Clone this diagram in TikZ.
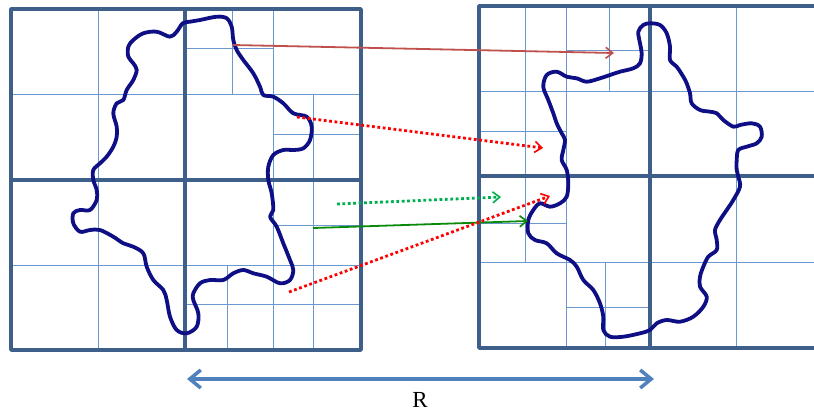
\documentclass[tikz,border=0pt]{standalone}
\usepackage{fontspec}
\setmainfont{Liberation Serif}
\usetikzlibrary{arrows.meta}
\definecolor{thickc}{HTML}{3E5F8A}
\definecolor{thinc}{HTML}{6A98CF}
\definecolor{blobc}{HTML}{0E0E85}
\definecolor{brownred}{HTML}{C0504D}
\definecolor{dgreen}{HTML}{0A8A0A}
\definecolor{lgreen}{HTML}{00B050}
\definecolor{rarrow}{HTML}{4F81BD}
\tikzset{
  thick grid/.style={draw=thickc,line width=3.5pt,line cap=round,line join=round},
  thin grid/.style={draw=thinc,line width=1pt},
  blob/.style={draw=blobc,line width=3.8pt,line join=round},
  openhead/.style={-{Straight Barb[length=7pt,width=11pt,line width=1.6pt]}},
  solidarrow/.style={openhead,line width=1.8pt},
  dotarrow/.style={openhead,line width=2.8pt,dash pattern=on 2.8pt off 2.6pt},
}
\begin{document}
\begin{tikzpicture}[x=1pt,y=-1pt]
\useasboundingbox (0,0) rectangle (814,413);
\clip (0,0) rectangle (814,413);
\fill[white] (0,0) rectangle (814,413);

% ---------- left square ----------
% level-2 grid
\draw[thin grid] (98.7,9) -- (98.7,350);
\draw[thin grid] (273,9) -- (273,350);
\draw[thin grid] (11,94) -- (361,94);
\draw[thin grid] (11,265) -- (361,265);
% level-3
\draw[thin grid] (185,48) -- (273,48);
\draw[thin grid] (232,9) -- (232,94);
\draw[thin grid] (313,94) -- (313,350);
\draw[thin grid] (273,134) -- (361,134);
\draw[thin grid] (273,225) -- (361,225);
\draw[thin grid] (185,304) -- (361,304);
\draw[thin grid] (227,265) -- (227,350);
% level-1
\draw[thick grid] (11,9) rectangle (361,350);
\draw[thick grid] (185,9) -- (185,350);
\draw[thick grid] (11,180) -- (361,180);

% ---------- right square ----------
\draw[thin grid] (566,6) -- (566,348);
\draw[thin grid] (736,6) -- (736,348);
\draw[thin grid] (479,91) -- (830,91);
\draw[thin grid] (479,262) -- (830,262);
% level-3
\draw[thin grid] (525,6) -- (525,262);
\draw[thin grid] (609,6) -- (609,91);
\draw[thin grid] (566,50) -- (650,50);
\draw[thin grid] (479,131) -- (566,131);
\draw[thin grid] (479,223) -- (566,223);
\draw[thin grid] (605,262) -- (605,348);
\draw[thin grid] (566,307) -- (650,307);
% level-1
\draw[thick grid] (830,6) -- (479,6) -- (479,348) -- (830,348);
\draw[thick grid] (650,6) -- (650,348);
\draw[thick grid] (479,176) -- (830,176);

% ---------- blobs ----------
\draw[blob] plot[smooth cycle, tension=0.55] coordinates {
(182.7,23.3) (190,21.7) (200,20) (216.7,16.7) (226.7,18.3) (231.7,26.7)
(233.3,40) (236.7,50) (243.3,60) (253.3,73.3) (260,86.7) (263.3,95)
(273.3,96.7) (283.3,103.3) (293.3,113.3) (306.7,116.7) (311.7,126.7)
(310,140) (303.3,148.3) (293.3,150) (283.3,150) (273.3,155) (268.3,166.7)
(268.3,180) (271.7,193.3) (273.3,210) (270,216.7) (276.7,226.7)
(283.3,243.3) (290,260) (293.3,270) (290,280) (280,283.3) (266.7,276.7)
(253.3,273.3) (243.3,270) (233.3,273.3) (223.3,280) (210,280) (200,283.3)
(193.3,293.3) (193.3,300) (198.3,313.3) (196.7,326.7) (186.7,333.3)
(176.7,330) (170,316.7) (166.7,300) (163.3,290) (153.3,280) (146.7,266.7)
(143.3,253.3) (133.3,246.7) (123.3,243.3) (113.3,236.7) (100,230) (90,230)
(80,231.7) (73.3,223.3) (73.3,213.3) (80,210) (90,210) (96.7,200)
(96.7,190) (93.3,180) (93.3,170) (100,163.3) (106.7,156.7) (113.3,146.7)
(116.7,136.7) (116.7,126.7) (113.3,113.3) (116.7,103.3) (123.3,100)
(126.7,90) (133.3,80) (136.7,70) (133.3,63.3) (128.3,56.7) (128.3,46.7)
(133.3,40) (143.3,33.3) (156.7,31.7) (170,36.7) (176.7,31.7)};

\draw[blob] plot[smooth cycle, tension=0.55] coordinates {
(650,23.3) (643.3,25) (638.3,31.7) (640,43.3) (641.7,53.3) (640,63.3)
(633.3,68.3) (620,71.7) (610,75) (600,78.3) (586.7,81.7) (576.7,78.3)
(566.7,76.7) (556.7,71.7) (546.7,75) (543.3,86.7) (548.3,100) (553.3,113.3)
(556.7,123.3) (561.7,133.3) (565,140) (563.3,150) (561.7,160) (566.7,170)
(568.3,183.3) (566.7,196.7) (560,203.3) (550,206.7) (540,203.3) (533.3,210)
(528.3,220) (528.3,233.3) (535,240) (546.7,243.3) (556.7,253.3) (570,260)
(576.7,266.7) (583.3,280) (593.3,290) (600,303.3) (603.3,316.7) (603.3,330)
(610,336.7) (623.3,336.7) (640,333.3) (650,330) (656.7,323.3) (666.7,320)
(680,321.7) (693.3,316.7) (703.3,306.7) (706.7,296.7) (700,286.7)
(700,276.7) (703.3,266.7) (708.3,256.7) (716.7,250) (716.7,240) (715,230)
(720,220) (726.7,210) (733.3,200) (740,186.7) (738.3,176.7) (736.7,170)
(736.7,160) (738.3,150) (746.7,146.7) (756.7,143.3) (761.7,136.7)
(760,126.7) (751.7,123.3) (740,125) (733.3,126.7) (723.3,120) (716.7,113.3)
(710,111.7) (700,110) (691.7,103.3) (690,93.3) (686.7,83.3) (683.3,76.7)
(676.7,66.7) (670,60) (670,46.7) (666.7,33.3) (660,25)};

% ---------- mapping arrows ----------
\coordinate (a1s) at (233,45);   \coordinate (a1e) at (614,53);
\coordinate (a2s) at (297,117);  \coordinate (a2e) at (543,148);
\coordinate (a3s) at (337,204);  \coordinate (a3e) at (501,197);
\coordinate (a4s) at (313,228);  \coordinate (a4e) at (528,221);
\coordinate (a5s) at (289,292);  \coordinate (a5e) at (550,196);

\draw[solidarrow,brownred] (a1s) -- (a1e);
\draw[dotarrow,red] (a2s) -- (a2e);
\draw[dotarrow,lgreen] (a3s) -- (a3e);
\draw[solidarrow,dgreen] (a4s) -- (a4e);
\draw[dotarrow,red] (a5s) -- (a5e);

% ---------- R distance ----------
\coordinate (rl) at (187,379);
\coordinate (rr) at (654,379);
\draw[rarrow,line width=4pt,{Straight Barb[length=11pt,width=18pt,line width=3.5pt]}-{Straight Barb[length=11pt,width=18pt,line width=3.5pt]}] (rl) -- (rr);
\node[font=\fontsize{23}{26}\selectfont,anchor=center,inner sep=0pt] (rlabel) at (420,400) {R};
\end{tikzpicture}
\end{document}
